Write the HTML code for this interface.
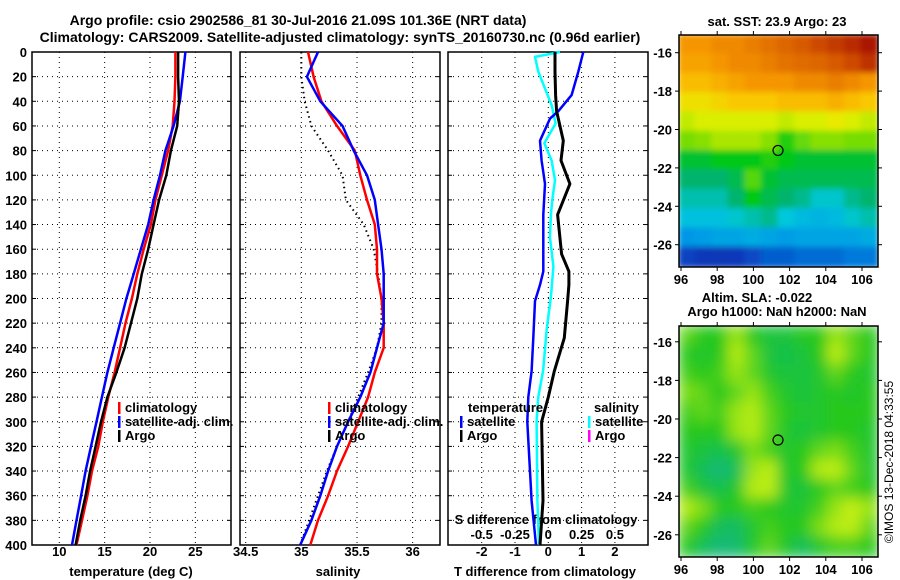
<!DOCTYPE html>
<html><head><meta charset="utf-8">
<style>
html,body{margin:0;padding:0;background:#fff;}
svg{display:block;font-family:"Liberation Sans",Arial,sans-serif;}
.b{font-weight:bold;font-size:13px;fill:#000;}
.t{font-weight:bold;font-size:14px;fill:#000;}
</style></head>
<body>
<svg id="s" width="900" height="580" viewBox="0 0 900 580" xmlns="http://www.w3.org/2000/svg">
<defs>
<filter id="blurA" x="0" y="0" width="1" height="1"><feGaussianBlur stdDeviation="3"/></filter>
<filter id="blurB" x="0" y="0" width="1" height="1"><feGaussianBlur stdDeviation="7"/></filter>
<clipPath id="clipM1"><rect x="679" y="35" width="199" height="232"/></clipPath>
<clipPath id="clipM2"><rect x="679" y="326" width="199" height="231"/></clipPath>
</defs>
<text class="t" x="298" y="25" text-anchor="middle">Argo profile: csio 2902586_81 30-Jul-2016 21.09S 101.36E (NRT data)</text>
<text class="t" x="340" y="42" text-anchor="middle">Climatology: CARS2009. Satellite-adjusted climatology: synTS_20160730.nc (0.96d earlier)</text>
<g id="g"></g>
<text class="b" x="777" y="26" text-anchor="middle">sat. SST: 23.9 Argo: 23</text>
<text class="b" x="757" y="302" text-anchor="middle">Altim. SLA: -0.022</text>
<text class="b" x="777" y="316" text-anchor="middle">Argo h1000: NaN h2000: NaN</text>
<text x="893" y="462" font-size="12" text-anchor="middle" transform="rotate(-90 893 462)">©IMOS 13-Dec-2018 04:33:55</text>
</svg>
<script>
// ---- data ----
const depths = [0,20,40,60,80,100,120,140,160,180,200,220,240,260,280,300,320,340,360,380,400];
const tempArgo = [23.1,23.1,23.2,23.0,22.3,21.8,21.0,20.4,19.8,19.1,18.6,17.9,17.2,16.3,15.3,14.6,14.0,13.4,12.9,12.3,11.8];
const tempClim = [22.8,22.8,22.7,22.5,22.0,21.3,20.6,20.1,19.3,18.6,18.0,17.3,16.7,16.1,15.4,14.8,14.3,13.6,13.1,12.5,11.9];
const tempSat  = [23.9,23.6,23.3,22.6,21.7,21.1,20.4,19.8,19.0,18.2,17.4,16.7,16.0,15.3,14.7,14.1,13.5,12.9,12.4,11.9,11.4];
const salArgo = [35.0,35.0,35.03,35.09,35.24,35.37,35.40,35.56,35.65,35.69,35.72,35.72,35.68,35.60,35.51,35.42,35.32,35.23,35.15,35.07,34.99];
const salClim = [35.06,35.11,35.18,35.32,35.48,35.53,35.59,35.66,35.68,35.68,35.72,35.74,35.74,35.66,35.60,35.51,35.42,35.32,35.24,35.15,35.08];
const salSat  = [35.15,35.05,35.17,35.37,35.47,35.59,35.66,35.69,35.72,35.74,35.74,35.74,35.68,35.62,35.53,35.42,35.32,35.24,35.17,35.09,34.99];
const diffDepths = [0,16,35,48,54,72,88,107,132,164,178,189,202,232,259,280,300,364,400];
const dTArgo = [0.2,0.2,0.22,0.25,0.3,0.45,0.38,0.65,0.28,0.4,0.62,0.62,0.58,0.48,0.18,0.0,-0.2,-0.16,-0.25];
const dTSat  = [1.05,0.9,0.7,0.3,0.05,-0.25,-0.2,-0.1,-0.15,-0.15,-0.15,-0.25,-0.4,-0.45,-0.5,-0.6,-0.63,-0.5,-0.37];
const dSDepths = [0,4,16,43,58,74,88,104,120,131,150,174,198,225,258,280,300,364,400];
const dSSat = [0.088,-0.1,-0.075,0.025,0.055,-0.03,0.025,0.05,0.03,0.02,0.012,0.038,0.02,-0.012,-0.038,-0.075,-0.088,-0.082,-0.07];
const depthTicks = [0,20,40,60,80,100,120,140,160,180,200,220,240,260,280,300,320,340,360,380,400];
const tempTicks = [10,15,20,25];
const salTicks = [34.5,35,35.5,36];
const salTickLabels = ["34.5","35","35.5","36"];
const diffTicks = [-2,-1,0,1,2];
const sDiffTicks = [-0.5,-0.25,0,0.25,0.5];
const sDiffLabels = ["-0.5","-0.25","0","0.25","0.5"];
const lonTicks = [96,98,100,102,104,106];
const latTicks = [-16,-18,-20,-22,-24,-26];
const argoLon = 101.36, argoLat = -21.09;
const sstGrid = [
[0.78,0.78,0.8,0.8,0.82,0.84,0.86,0.88,0.9,0.92,0.94,0.97],
[0.76,0.76,0.78,0.8,0.8,0.82,0.84,0.85,0.86,0.88,0.9,0.93],
[0.72,0.72,0.74,0.76,0.78,0.78,0.78,0.8,0.8,0.82,0.8,0.78],
[0.66,0.66,0.68,0.7,0.7,0.7,0.72,0.72,0.72,0.74,0.72,0.7],
[0.6,0.62,0.62,0.62,0.62,0.62,0.6,0.62,0.62,0.64,0.62,0.6],
[0.55,0.56,0.58,0.58,0.58,0.56,0.5,0.54,0.56,0.56,0.55,0.55],
[0.46,0.46,0.48,0.48,0.48,0.5,0.48,0.46,0.46,0.46,0.46,0.46],
[0.42,0.42,0.42,0.44,0.53,0.46,0.44,0.44,0.44,0.44,0.44,0.44],
[0.38,0.38,0.38,0.42,0.48,0.44,0.42,0.4,0.36,0.36,0.4,0.42],
[0.34,0.34,0.34,0.36,0.38,0.4,0.35,0.33,0.32,0.33,0.36,0.38],
[0.28,0.29,0.3,0.3,0.31,0.3,0.29,0.3,0.3,0.3,0.3,0.31],
[0.16,0.12,0.11,0.13,0.17,0.2,0.2,0.22,0.22,0.22,0.24,0.24]];
const slaGrid = [
[0.6,0.5,0.5,0.7,0.5,0.4,0.4,0.5,0.5,0.7,0.6,0.5],
[0.5,0.45,0.5,0.75,0.6,0.4,0.35,0.4,0.5,0.8,0.6,0.5],
[0.55,0.5,0.55,0.7,0.6,0.45,0.4,0.4,0.45,0.6,0.5,0.45],
[0.65,0.6,0.5,0.6,0.7,0.55,0.45,0.4,0.45,0.5,0.45,0.5],
[0.55,0.6,0.55,0.7,0.75,0.6,0.5,0.45,0.45,0.5,0.5,0.5],
[0.5,0.5,0.5,0.7,0.75,0.6,0.45,0.4,0.45,0.5,0.5,0.45],
[0.45,0.4,0.35,0.45,0.65,0.55,0.45,0.5,0.6,0.65,0.55,0.45],
[0.45,0.3,0.15,0.3,0.7,0.8,0.45,0.5,0.75,0.8,0.6,0.45],
[0.55,0.4,0.35,0.45,0.75,0.8,0.45,0.4,0.5,0.6,0.55,0.5],
[0.75,0.65,0.5,0.5,0.55,0.5,0.45,0.45,0.55,0.7,0.85,0.7],
[0.6,0.5,0.3,0.25,0.45,0.55,0.5,0.5,0.65,0.75,0.8,0.6],
[0.5,0.3,0.15,0.2,0.45,0.6,0.45,0.3,0.45,0.55,0.55,0.5]];

// ---- scales ----
const NS="http://www.w3.org/2000/svg";
const G=document.getElementById('g');
const yD=d=>52+d*1.2325;
const xT=t=>59.3+(t-10)*9.07;
const xS=s=>245.7+(s-34.5)*111.3;
const xD=v=>548.3+v*33.3;
const xSD=v=>548.3+v*133.2;
const xLon=l=>681+(l-96)*18.1;
const yLat1=l=>52.7+(-16-l)*19.2;
const yLat2=l=>419+(-20-l)*19.3;
function el(tag,attrs,parent){const e=document.createElementNS(NS,tag);for(const k in attrs)e.setAttribute(k,attrs[k]);(parent||G).appendChild(e);return e;}
function txt(x,y,s,anchor,cls){const e=el('text',{x:x,y:y,'text-anchor':anchor||'middle','class':cls||'b'});e.textContent=s;return e;}

const panels=[{x0:32,x1:231,xs:tempTicks.map(xT),name:'temperature-panel'},
{x0:240,x1:440,xs:salTicks.map(xS),name:'salinity-panel'},
{x0:448,x1:648,xs:diffTicks.map(xD),name:'difference-panel'}];
const Y0=yD(0),Y1=yD(400);
panels.forEach(p=>{
  const g=el('g',{});
  
  
  depthTicks.forEach(d=>{
    if(d>0&&d<400){const l=el('line',{x1:p.x0,x2:p.x1,y1:yD(d),y2:yD(d),stroke:'#000','stroke-width':1,'stroke-dasharray':'1,4'},g);
    
    }
    el('line',{x1:p.x0,x2:p.x0+4,y1:yD(d),y2:yD(d),stroke:'#000'},g);
    el('line',{x1:p.x1,x2:p.x1-4,y1:yD(d),y2:yD(d),stroke:'#000'},g);
  });
  p.xs.forEach(x=>{
    const l=el('line',{x1:x,x2:x,y1:Y0,y2:Y1,stroke:'#000','stroke-width':1,'stroke-dasharray':'1,4'},g);
    
    
  });
  const r=el('rect',{x:p.x0,y:Y0,width:p.x1-p.x0,height:Y1-Y0,fill:'none',stroke:'#000','stroke-width':1.5},g);
  
  
});
depthTicks.forEach(d=>{const t=txt(27,yD(d)+5,String(d),'end');
  
  });
tempTicks.forEach(v=>{const t=txt(xT(v),556,String(v));
  
  });
salTicks.forEach((v,i)=>{const t=txt(xS(v),556,salTickLabels[i]);
  
  });
diffTicks.forEach(v=>{const t=txt(xD(v),556,String(v));
  
  });
sDiffTicks.forEach((v,i)=>{const t=txt(xSD(v),539,sDiffLabels[i]);
  
  });
let a=txt(131,576,'temperature (deg C)');


a=txt(338,576,'salinity');


a=txt(545,576,'T difference from climatology');


a=txt(546,524,'S difference from climatology');



function line(xs,ds,fx,color,w,name,dash){
  const pts=xs.map((v,i)=>fx(v).toFixed(1)+','+yD(ds[i]).toFixed(1)).join(' ');
  const attrs={points:pts,fill:'none',stroke:color,'stroke-width':w,'stroke-linejoin':'round'};
  if(dash)attrs['stroke-dasharray']=dash;
  const p=el('polyline',attrs);
  
  
}
line(tempClim,depths,xT,'#f00',2.5,'temp-climatology-line');
line(tempSat,depths,xT,'#00f',2.5,'temp-satellite-line');
line(tempArgo,depths,xT,'#000',2.5,'temp-argo-line');
line(salArgo,depths,xS,'#000',2,'salinity-argo-line','1.5,3.5');
line(salClim,depths,xS,'#f00',2.5,'salinity-climatology-line');
line(salSat,depths,xS,'#00f',2.5,'salinity-satellite-line');
line(dSSat,dSDepths,xSD,'#0ff',2.5,'s-diff-satellite-line');
line(dTSat,diffDepths,xD,'#00f',2.5,'t-diff-satellite-line');
line(dTArgo,diffDepths,xD,'#000',3,'t-diff-argo-line');

function leg(x,y,color,label,name){
  const g=el('g',{});
  
  
  if(color) el('rect',{x:x,y:y-10,width:2.5,height:12,fill:color},g);
  const t=document.createElementNS(NS,'text');
  t.setAttribute('x',x+(color?7:0));t.setAttribute('y',y);t.setAttribute('class','b');t.textContent=label;g.appendChild(t);
}
leg(118,412,'#f00','climatology','legend-temp-climatology');
leg(118,426,'#00f','satellite-adj. clim.','legend-temp-satellite');
leg(118,440,'#000','Argo','legend-temp-argo');
leg(328,412,'#f00','climatology','legend-sal-climatology');
leg(328,426,'#00f','satellite-adj. clim.','legend-sal-satellite');
leg(328,440,'#000','Argo','legend-sal-argo');
leg(468,412,null,'temperature','legend-diff-temperature-header');
leg(460,426,'#00f','satellite','legend-diff-t-satellite');
leg(460,440,'#000','Argo','legend-diff-t-argo');
leg(594,412,null,'salinity','legend-diff-salinity-header');
leg(588,426,'#0ff','satellite','legend-diff-s-satellite');
leg(588,440,'#f0f','Argo','legend-diff-s-argo');

// ---- maps ----
function lerpC(stops,v){
  v=Math.max(0,Math.min(1,v));
  for(let i=1;i<stops.length;i++){if(v<=stops[i][0]){const a=stops[i-1],b=stops[i],f=(v-a[0])/(b[0]-a[0]);
    return 'rgb('+[1,2,3].map(k=>Math.round(a[k]+(b[k]-a[k])*f)).join(',')+')';}}
  const l=stops[stops.length-1];return 'rgb('+l[1]+','+l[2]+','+l[3]+')';
}
const sstStops=[[0,0,40,160],[0.15,10,60,190],[0.28,0,150,230],[0.35,0,200,220],[0.42,0,180,110],[0.48,0,200,20],[0.58,170,230,0],[0.63,230,240,0],[0.7,250,200,0],[0.78,245,150,0],[0.88,215,90,0],[0.97,170,20,0],[1,150,0,0]];
const slaStops=[[0,20,180,150],[0.3,20,190,90],[0.5,40,200,30],[0.75,180,235,20],[1,225,245,30]];
function drawMap(grid,stops,x0,y0,w,h,clip,filt,name,yLat){
  const g=el('g',{'clip-path':'url(#'+clip+')'});
  
  
  const inner=el('g',{filter:'url(#'+filt+')'},g);
  const rows=grid.length,cols=grid[0].length,cw=w/cols,ch=h/rows;
  el('rect',{x:x0,y:y0,width:w,height:h,fill:lerpC(stops,grid[6][6])},inner);
  grid.forEach((row,r)=>row.forEach((v,c)=>{
    const cell=el('rect',{x:(x0+c*cw-1).toFixed(1),y:(y0+r*ch-1).toFixed(1),width:(cw+2).toFixed(1),height:(ch+2).toFixed(1),fill:lerpC(stops,v)},inner);
    
    
  }));
  const f=el('rect',{x:x0,y:y0,width:w,height:h,fill:'none',stroke:'#000','stroke-width':1.5});
  
  
  lonTicks.forEach(l=>{
    el('line',{x1:xLon(l),x2:xLon(l),y1:y0,y2:y0-4,stroke:'#000'});
    el('line',{x1:xLon(l),x2:xLon(l),y1:y0+h,y2:y0+h+4,stroke:'#000'});
    const t=txt(xLon(l),y0+h+17,String(l));
    
    
  });
  latTicks.forEach(l=>{
    el('line',{x1:x0,x2:x0-4,y1:yLat(l),y2:yLat(l),stroke:'#000'});
    el('line',{x1:x0+w,x2:x0+w+4,y1:yLat(l),y2:yLat(l),stroke:'#000'});
    const t=txt(x0-7,yLat(l)+5,String(l),'end');
    
    
  });
  const m=el('circle',{cx:xLon(argoLon),cy:yLat(argoLat),r:5,fill:'none',stroke:'#000','stroke-width':1.2});
  
  
}
drawMap(sstGrid,sstStops,679,35,199,232,'clipM1','blurA','sst-map',yLat1);
drawMap(slaGrid,slaStops,679,326,199,231,'clipM2','blurB','sla-map',yLat2);
</script>
</body></html>
